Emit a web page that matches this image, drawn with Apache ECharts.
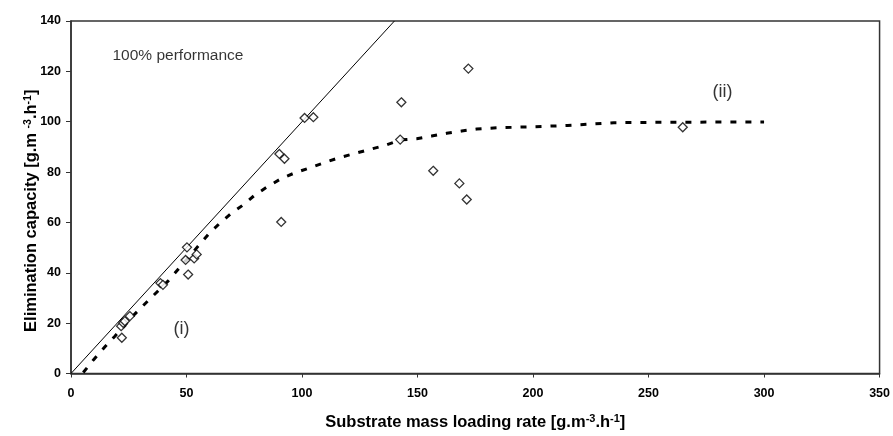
<!DOCTYPE html>
<html>
<head>
<meta charset="utf-8">
<script src="https://cdn.jsdelivr.net/npm/echarts@6/dist/echarts.min.js"></script>
<style>
  html, body { margin: 0; padding: 0; background: #fff; }
  #main { width: 893px; height: 436px; }
</style>
</head>
<body>
<div id="main"></div>
<script>
// measured points (loading rate, elimination capacity)
var loadRate = [21.7, 22.6, 23.3, 25.5, 22.0, 38.7, 39.8, 50.2, 49.6, 50.7, 53.3, 54.4,
                90.2, 92.4, 91.0, 101.1, 104.9, 143.0, 142.5, 156.8, 168.1, 171.3, 172.0, 264.8];
var elimCap  = [18.8, 20.1, 20.8, 22.8, 14.2, 35.9, 35.2, 50.1, 45.1, 39.3, 45.7, 47.3,
                87.2, 85.3, 60.2, 101.5, 101.8, 107.7, 92.9, 80.5, 75.5, 69.1, 121.1, 97.8];

// dashed trend curve
var trendX = [5.3, 9.7, 14.7, 19, 27.7, 32.7, 42.1, 46.4, 59.4, 64.5, 69.5, 74.6, 79.6, 85.4,
              91.2, 96.9, 103.4, 109.9, 116, 135.9, 142.8, 149.6, 156.1, 162.6, 169.1, 175.6,
              185, 200, 215, 235, 260, 300];
var trendY = [0.4, 5.4, 10.6, 14.8, 23.7, 28.3, 36.8, 41.4, 55.2, 59.8, 63.7, 67, 70.9, 74.4,
              77.5, 79.7, 81.7, 83.8, 85.7, 90.6, 92.8, 93.2, 94.3, 95.4, 96.3, 97.1,
              97.6, 98.0, 98.5, 99.6, 99.8, 99.9];

// 100% performance line (EC = load)
var perfX = [0, 140];
var perfY = [0, 140];

// text notes placed in data coordinates
var noteText = ['100% performance', '(i)', '(ii)'];
var noteX = [46.3, 47.8, 282];
var noteY = [126.2, 17.8, 111.6];
var noteSize = [15.5, 18, 18];

function zip(a, b) {
    var out = [];
    for (var i = 0; i < a.length; i++) out.push([a[i], b[i]]);
    return out;
}

var notes = [];
for (var i = 0; i < noteText.length; i++) {
    notes.push({
        value: [noteX[i], noteY[i]],
        label: { show: true, position: 'inside', formatter: noteText[i], fontSize: noteSize[i] }
    });
}

var font = '"Liberation Sans", Arial, sans-serif';
var supRich = {
    b: { fontFamily: font, fontSize: 16.5, fontWeight: 'bold', color: '#000' },
    s: { fontFamily: font, fontSize: 11, fontWeight: 'bold', color: '#000', verticalAlign: 'top', padding: [0, 0, 7, 0] }
};
var supRichY = {
    b: supRich.b,
    s: { fontFamily: font, fontSize: 10.5, fontWeight: 'bold', color: '#000', verticalAlign: 'top', padding: [0, 0, 5, 0] }
};

var myChart = echarts.init(document.getElementById('main'));
var option = {
    animation: false,
    backgroundColor: '#fff',
    grid: {
        left: 71, right: 11, top: 21, bottom: 59,
        show: true, borderColor: '#333', borderWidth: 1.5
    },
    xAxis: {
        type: 'value',
        min: 0, max: 350, interval: 50,
        name: '{b|Substrate mass loading rate [g.m}{s|-3}{b|.h}{s|-1}{b|]}',
        nameLocation: 'middle',
        nameGap: 40,
        nameMoveOverlap: false,
        nameTextStyle: { rich: supRich },
        axisLine: { show: true, lineStyle: { color: '#333', width: 1.5 } },
        axisTick: { show: true, inside: false, length: 4, lineStyle: { color: '#333' } },
        axisLabel: { color: '#000', fontFamily: font, fontWeight: 'bold', fontSize: 12.5, margin: 14 },
        splitLine: { show: false }
    },
    yAxis: {
        type: 'value',
        min: 0, max: 140, interval: 20,
        name: '{b|Elimination capacity [g.m }{s|-3}{b|.h}{s|-1}{b|]}',
        nameLocation: 'middle',
        nameGap: 31,
        nameMoveOverlap: false,
        nameRotate: 90,
        nameTextStyle: { rich: supRichY, padding: [0, 27, 0, 0] },
        axisLine: { show: true, lineStyle: { color: '#333', width: 1.5 } },
        axisTick: { show: true, inside: false, length: 5, lineStyle: { color: '#333' } },
        axisLabel: { color: '#000', fontFamily: font, fontWeight: 'bold', fontSize: 12.5, margin: 10 },
        splitLine: { show: false }
    },
    series: [
        {
            name: '100% performance',
            type: 'line',
            data: zip(perfX, perfY),
            showSymbol: false,
            symbol: 'none',
            lineStyle: { color: '#000', width: 1 },
            silent: true
        },
        {
            name: 'trend',
            type: 'line',
            data: zip(trendX, trendY),
            symbol: 'none',
            smooth: false,
            lineStyle: { color: '#000', width: 3, type: [6, 9], cap: 'butt' },
            silent: true
        },
        {
            name: 'measured',
            type: 'scatter',
            data: zip(loadRate, elimCap),
            symbol: 'diamond',
            symbolSize: 9,
            itemStyle: { color: '#fff', borderColor: '#000', borderWidth: 1.3 },
            z: 5
        },
        {
            name: 'notes',
            type: 'scatter',
            data: notes,
            symbolSize: 0,
            label: { color: '#000', fontFamily: font },
            silent: true
        }
    ]
};
myChart.setOption(option);
</script>
</body>
</html>
